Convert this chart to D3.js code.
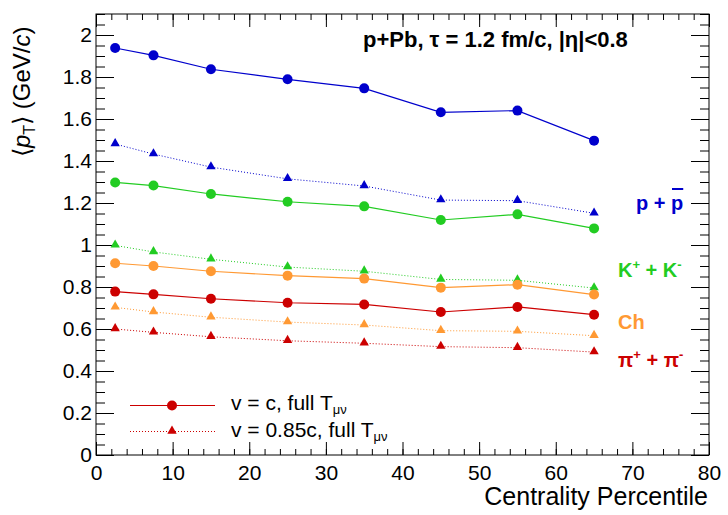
<!DOCTYPE html>
<html>
<head>
<meta charset="utf-8">
<script src="https://cdn.jsdelivr.net/npm/d3@7"></script>
<style>
  body { margin: 0; background: #fff; }
  svg text { font-family: "Liberation Sans", Arial, sans-serif; }
</style>
</head>
<body>
<div id="chart"></div>
<script>
// centrality bin centres (percent)
var centrality = [2.5, 7.5, 15, 25, 35, 45, 55, 65];

// <pT> values, solid = v = c, dotted = v = 0.85c
var protonFull = [1.938, 1.903, 1.837, 1.789, 1.746, 1.632, 1.640, 1.497];
var protonSlow = [1.481, 1.433, 1.371, 1.315, 1.281, 1.214, 1.211, 1.151];
var kaonFull = [1.298, 1.283, 1.243, 1.206, 1.184, 1.119, 1.146, 1.079];
var kaonSlow = [0.998, 0.967, 0.932, 0.895, 0.875, 0.836, 0.832, 0.795];
var chFull = [0.913, 0.900, 0.875, 0.854, 0.840, 0.797, 0.811, 0.764];
var chSlow = [0.703, 0.681, 0.656, 0.633, 0.619, 0.592, 0.589, 0.568];
var pionFull = [0.778, 0.765, 0.744, 0.725, 0.717, 0.681, 0.705, 0.668];
var pionSlow = [0.600, 0.584, 0.563, 0.544, 0.532, 0.516, 0.511, 0.490];

var species = [
  {name: "p", color: "#0000cc", full: protonFull, slow: protonSlow},
  {name: "K", color: "#22cc22", full: kaonFull, slow: kaonSlow},
  {name: "Ch", color: "#ff9933", full: chFull, slow: chSlow},
  {name: "pi", color: "#cc0000", full: pionFull, slow: pionSlow}
];

var xTicks = [0, 10, 20, 30, 40, 50, 60, 70, 80];
var yTicks = [0, 0.2, 0.4, 0.6, 0.8, 1, 1.2, 1.4, 1.6, 1.8, 2];

var W = 728, H = 515;
var margin = {top: 14, right: 19, bottom: 60, left: 96};
var w = W - margin.left - margin.right;
var h = H - margin.top - margin.bottom;

var svg = d3.select("#chart").append("svg")
    .attr("width", W)
    .attr("height", H);
var g = svg.append("g").attr("transform", "translate(" + margin.left + "," + margin.top + ")");

var x = d3.scaleLinear().domain([0, 80]).range([0, w]);
var y = d3.scaleLinear().domain([0, 2.1]).range([h, 0]);

var xMinor = d3.range(0, 80.01, 2);
var yMinor = d3.range(0, 2.101, 0.05);

function styleAxis(sel){
  sel.select(".domain").remove();
  sel.selectAll("line").attr("stroke", "#000");
  sel.selectAll("text").attr("font-size", 21).attr("fill", "#000");
}

// bottom axis (ticks point inward)
g.append("g").attr("transform", "translate(0," + h + ")")
  .call(d3.axisBottom(x).tickValues(xTicks).tickSize(-13).tickPadding(10).tickFormat(d3.format("d")))
  .call(styleAxis);
g.append("g").attr("transform", "translate(0," + h + ")")
  .call(d3.axisBottom(x).tickValues(xMinor).tickSize(-6).tickFormat(""))
  .call(styleAxis);
// top axis
g.append("g")
  .call(d3.axisTop(x).tickValues(xTicks).tickSize(-13).tickFormat(""))
  .call(styleAxis);
g.append("g")
  .call(d3.axisTop(x).tickValues(xMinor).tickSize(-6).tickFormat(""))
  .call(styleAxis);
// left axis
g.append("g")
  .call(d3.axisLeft(y).tickValues(yTicks).tickSize(-18).tickPadding(4).tickFormat(d3.format("~g")))
  .call(styleAxis);
g.append("g")
  .call(d3.axisLeft(y).tickValues(yMinor).tickSize(-9).tickFormat(""))
  .call(styleAxis);
// right axis
g.append("g").attr("transform", "translate(" + w + ",0)")
  .call(d3.axisRight(y).tickValues(yTicks).tickSize(-18).tickFormat(""))
  .call(styleAxis);
g.append("g").attr("transform", "translate(" + w + ",0)")
  .call(d3.axisRight(y).tickValues(yMinor).tickSize(-9).tickFormat(""))
  .call(styleAxis);

// frame
g.append("rect")
  .attr("width", w).attr("height", h)
  .attr("fill", "none").attr("stroke", "#000").attr("stroke-width", 1);

var line = d3.line()
  .x(function(d){ return x(d[0]); })
  .y(function(d){ return y(d[1]); });

var tri = d3.symbol().type(d3.symbolTriangle).size(38);

species.forEach(function(s){
  var full = d3.zip(centrality, s.full);
  var slow = d3.zip(centrality, s.slow);

  g.append("path").datum(slow)
    .attr("d", line)
    .attr("fill", "none")
    .attr("stroke", s.color)
    .attr("stroke-width", 1)
    .attr("stroke-dasharray", "1,2");
  g.selectAll(null).data(slow).enter().append("path")
    .attr("d", tri)
    .attr("transform", function(d){ return "translate(" + x(d[0]) + "," + (y(d[1]) - 0.5) + ")"; })
    .attr("fill", s.color);

  g.append("path").datum(full)
    .attr("d", line)
    .attr("fill", "none")
    .attr("stroke", s.color)
    .attr("stroke-width", 1.2);
  g.selectAll(null).data(full).enter().append("circle")
    .attr("cx", function(d){ return x(d[0]); })
    .attr("cy", function(d){ return y(d[1]); })
    .attr("r", 5)
    .attr("fill", s.color);
});

// species labels on the right
var lab1 = svg.append("text")
  .attr("x", 636).attr("y", 210)
  .attr("font-size", 20).attr("font-weight", "bold").attr("fill", "#0000cc")
  .text("p + p");
var ext = lab1.node().getExtentOfChar(4);
svg.append("line")
  .attr("x1", ext.x + 1).attr("x2", ext.x + ext.width)
  .attr("y1", 189).attr("y2", 189)
  .attr("stroke", "#0000cc").attr("stroke-width", 2);

var lab2 = svg.append("text")
  .attr("x", 618).attr("y", 277)
  .attr("font-size", 20).attr("font-weight", "bold").attr("fill", "#22cc22");
lab2.append("tspan").text("K");
lab2.append("tspan").attr("dy", -8).attr("font-size", 13).text("+");
lab2.append("tspan").attr("dy", 8).text(" + K");
lab2.append("tspan").attr("dy", -8).attr("font-size", 13).text("-");

svg.append("text")
  .attr("x", 618).attr("y", 329)
  .attr("font-size", 20).attr("font-weight", "bold").attr("fill", "#ff9933")
  .text("Ch");

var lab4 = svg.append("text")
  .attr("x", 618).attr("y", 367)
  .attr("font-size", 20).attr("font-weight", "bold").attr("fill", "#cc0000");
lab4.append("tspan").text("π");
lab4.append("tspan").attr("dy", -8).attr("font-size", 13).text("+");
lab4.append("tspan").attr("dy", 8).text(" + π");
lab4.append("tspan").attr("dy", -8).attr("font-size", 13).text("-");

// header
svg.append("text")
  .attr("x", 363).attr("y", 47)
  .attr("font-size", 22).attr("font-weight", "bold").attr("fill", "#000")
  .text("p+Pb,  τ = 1.2 fm/c, |η|<0.8");

// legend
var legend = svg.append("g");
legend.append("line")
  .attr("x1", 130).attr("x2", 215).attr("y1", 405.5).attr("y2", 405.5)
  .attr("stroke", "#cc0000").attr("stroke-width", 1.2);
legend.append("circle").attr("cx", 172).attr("cy", 405.5).attr("r", 5).attr("fill", "#cc0000");
legend.append("line")
  .attr("x1", 130).attr("x2", 215).attr("y1", 431.5).attr("y2", 431.5)
  .attr("stroke", "#cc0000").attr("stroke-width", 1).attr("stroke-dasharray", "1,2");
legend.append("path").attr("d", tri)
  .attr("transform", "translate(172,431)").attr("fill", "#cc0000");

var leg1 = legend.append("text").attr("x", 231).attr("y", 410).attr("font-size", 21);
leg1.append("tspan").text("v = c, full T");
leg1.append("tspan").attr("dy", 4).attr("font-size", 13).text("μν");
var leg2 = legend.append("text").attr("x", 231).attr("y", 437).attr("font-size", 21);
leg2.append("tspan").text("v = 0.85c, full T");
leg2.append("tspan").attr("dy", 4).attr("font-size", 13).text("μν");

// axis titles
svg.append("text")
  .attr("x", 708).attr("y", 505)
  .attr("text-anchor", "end")
  .attr("font-size", 25)
  .text("Centrality Percentile");

var yt = svg.append("text")
  .attr("transform", "translate(30,157) rotate(-90)")
  .attr("font-size", 24);
yt.append("tspan").text("⟨");
yt.append("tspan").attr("font-style", "italic").text("p");
yt.append("tspan").attr("dy", 5).attr("font-size", 16).text("T");
yt.append("tspan").attr("dy", -5).text("⟩ (GeV/");
yt.append("tspan").attr("font-style", "italic").text("c");
yt.append("tspan").text(")");
</script>
</body>
</html>
